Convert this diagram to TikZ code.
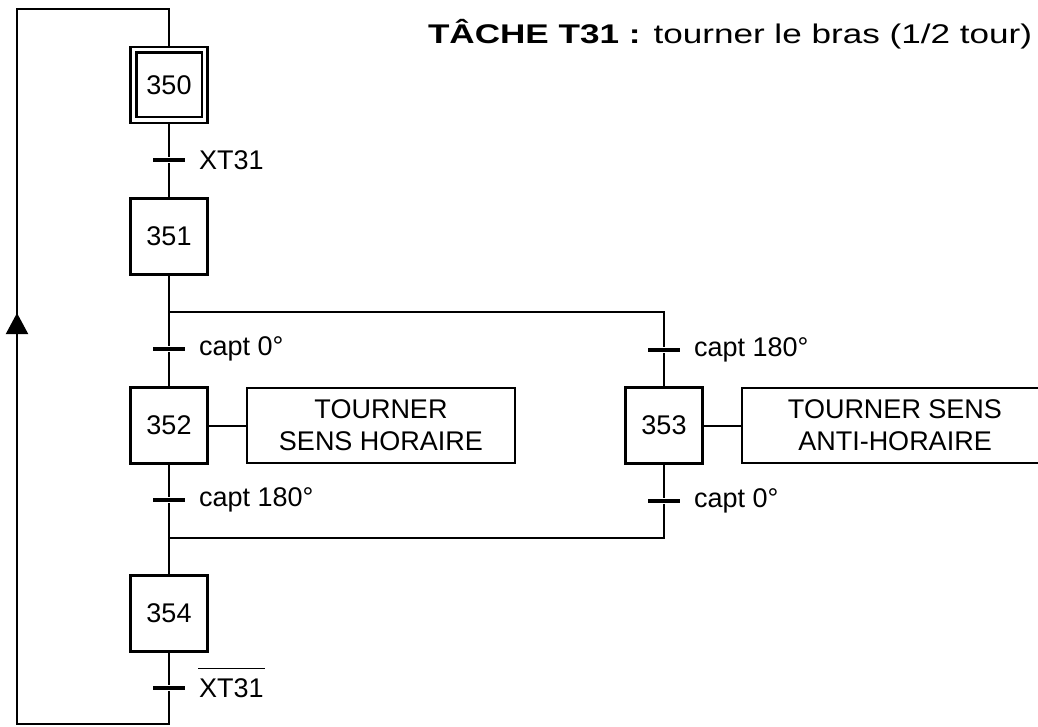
\documentclass[tikz,border=0pt]{standalone}
\usepackage{fontspec}
\setmainfont{Liberation Sans}
\usetikzlibrary{positioning,arrows.meta}

\begin{document}
\begin{tikzpicture}[
    x=1pt, % one unit is one pixel of the sheet
    y=-1pt, % y runs downwards, as on the sheet
    every node/.style={font=\fontsize{27}{32}\selectfont},
    line width=2pt,
    etape/.style={draw, line width=2.5pt, minimum width=77pt, minimum height=76pt, inner sep=0pt},
    action/.style={draw, line width=2.5pt, minimum height=75pt, align=center, inner sep=0pt},
    trans/.style={fill=black, minimum width=32pt, minimum height=4.5pt, inner sep=0pt},
    recep/.style={inner sep=0pt}
    ]

\clip (0,0) rectangle (1038,727);

% --- Title ---
\node[anchor=base west, inner sep=0pt] (titre) at (427,44)
    {\scalebox{1.3}[1]{\textbf{TÂCHE T31 :} tourner le bras (1/2 tour)}};

% --- Steps ---
\node[etape] (E350) at (169,85) {350};
\draw[line width=2.5pt] ([shift={(7pt,-7pt)}]E350.north west) rectangle ([shift={(-7pt,7pt)}]E350.south east);
\node[etape] (E351) at (169,236.5) {351};
\node[etape] (E352) at (169,425.5) {352};
\node[etape] (E353) at (664,425.5) {353};
\node[etape] (E354) at (169,613.5) {354};

% --- Actions ---
\node[action, minimum width=268pt, right=37pt of E352] (A352) {TOURNER\\SENS HORAIRE};
\node[action, minimum width=306pt, right=37pt of E353] (A353) {TOURNER SENS\\ANTI-HORAIRE};
\draw (E352) -- (A352);
\draw (E353) -- (A353);

% --- Transitions and their receptivities ---
\foreach \nom/\px/\py/\txt in {t1/169/160/XT31, t2/169/349/capt 0°, t3/664/350/capt 180°,
    t4/169/500/capt 180°, t5/664/501/capt 0°, t6/169/688/XT31} {
    \node[trans] (\nom) at (\px,\py) {};
    \node[recep, right=12pt of \nom] (r-\nom) {\txt};
}
% bar over the last receptivity
\draw[line width=1.5pt] ([yshift=9pt]r-t6.north west) -- ([yshift=9pt]r-t6.north east);

% --- Junctions ---
\coordinate (divL) at (169,312);
\coordinate (divR) at (664,312);
\coordinate (convL) at (169,538);
\coordinate (convR) at (664,538);
\coordinate (basL) at (169,724);
\coordinate (basG) at (17,724);
\coordinate (hautG) at (17,9);
\coordinate (hautL) at (169,9);

% --- Links ---
\draw (E350) -- (t1) -- (E351);
\draw (E351) -- (divL) -- (t2) -- (E352);
\draw (divL) -- (divR) -- (t3) -- (E353);
\draw (E352) -- (t4) -- (convL) -- (E354);
\draw (E353) -- (t5) -- (convR) -- (convL);
\draw (E354) -- (t6) -- (basL) -- (basG) -- (hautG) -- (hautL) -- (E350);

% arrow on the return line
\draw[-{Triangle[width=22pt,length=21pt]}] (basG) -- (17,313);

\end{tikzpicture}
\end{document}
